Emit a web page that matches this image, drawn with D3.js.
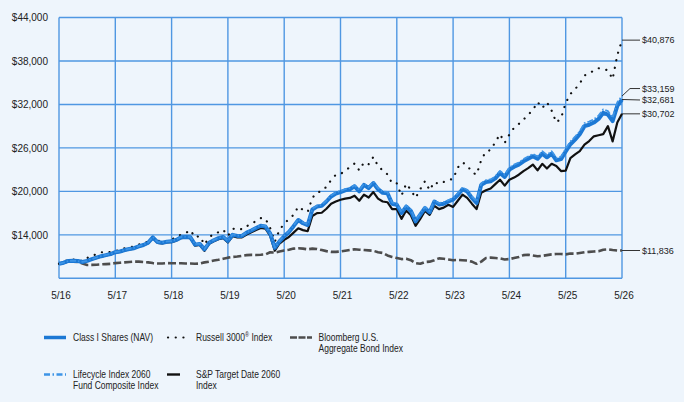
<!DOCTYPE html>
<html lang="en">
<head>
<meta charset="utf-8">
<title>Growth of $10,000</title>
<script src="https://cdn.jsdelivr.net/npm/d3@7"></script>
<style>
  body { margin: 0; background: #eef5fc; }
  svg { display: block; }
  text { font-family: "Liberation Sans", Arial, sans-serif; fill: #222; }
</style>
</head>
<body>
<script>
// month index 0 = 5/16 ... 120 = 5/26
var xTickLabels = ["5/16","5/17","5/18","5/19","5/20","5/21","5/22","5/23","5/24","5/25","5/26"];
var yTicks = [14000, 20000, 26000, 32000, 38000, 44000];

var classI = [10000,10150,10400,10420,10380,10250,10400,10650,10850,11050,11200,11350,
  11600,11700,11900,12050,12150,12400,12600,12900,13650,13000,12900,13050,
  13100,13300,13650,13700,13650,12650,12750,12000,12900,13250,13550,13700,
  13150,14000,13850,13850,14300,14600,14950,15250,15150,14200,12200,13100,
  13800,14400,15200,16050,15600,15350,17500,17900,18000,18600,19300,19700,
  19900,20150,20300,20700,20000,20900,20450,21150,20300,19800,19750,18300,
  18150,17000,17900,17300,15850,16800,17700,17100,18600,18200,18300,18600,
  18850,19500,20300,20000,19100,18400,20900,21300,21400,21800,22550,22000,
  23000,23400,23700,24150,24500,24850,24500,25200,24700,25200,24300,24450,
  25500,26500,27150,27900,29000,29200,29500,30000,30850,30600,29700,31800,
  32681];

var lifecycle = [10000,10160,10410,10430,10390,10260,10420,10670,10870,11070,11230,11380,
  11630,11730,11930,12080,12190,12430,12640,12940,13690,13040,12940,13090,
  13140,13350,13700,13750,13700,12700,12800,12050,12950,13300,13600,13760,
  13200,14060,13910,13910,14370,14670,15020,15330,15230,14270,12260,13170,
  13880,14490,15300,16150,15700,15450,17620,18020,18120,18730,19430,19840,
  20040,20300,20450,20860,20150,21060,20610,21320,20470,19970,19920,18460,
  18310,17160,18070,17470,16000,16960,17870,17270,18780,18380,18490,18790,
  19050,19710,20520,20220,19310,18600,21130,21540,21650,22060,22820,22270,
  23280,23690,23990,24450,24810,25170,24820,25530,25030,25540,24640,24790,
  25860,26880,27540,28300,29420,29630,29940,30450,31320,31080,30170,32300,
  33159];

var russell = [10000,10300,10550,10600,10550,10350,10800,11150,11300,11600,11550,11650,
  11800,11900,12150,12250,12400,12650,12900,13050,13700,13250,12950,13150,
  13400,13600,14050,14250,14650,13650,13850,12650,13650,14150,14350,14700,
  13850,14800,14950,14750,15200,15450,15950,16300,16250,14950,13050,14700,
  15500,16200,16750,17900,17450,17150,19100,19850,20000,20650,21550,22300,
  22400,22850,23350,23850,22900,24000,23750,24750,23500,22900,22350,21100,
  21100,19400,21050,20200,19100,20300,21400,20150,21300,21000,21300,21600,
  21700,23300,24000,23600,22650,22300,24350,25500,25700,26800,27900,26700,
  27850,28800,29300,29900,30600,31200,32350,31500,32300,31150,29500,30100,
  32200,33450,34100,34900,36000,36250,36700,37000,36900,36700,35500,38800,
  40876];

var bloomberg = [10000,10150,10300,10280,10250,10050,9840,9850,9880,9920,9960,10000,
  10100,10150,10200,10250,10300,10300,10250,10200,10100,10050,10050,10100,
  10080,10080,10080,10050,10050,10000,10050,10200,10300,10450,10550,10700,
  10850,10950,11000,11100,11200,11230,11220,11250,11300,11600,11550,11700,
  11850,11950,12100,12150,12100,12000,12100,12050,11900,11750,11650,11650,
  11700,11800,11900,12000,11950,11900,11850,11800,11600,11500,11150,10950,
  10800,10650,10700,10500,10100,10000,10250,10300,10500,10750,10700,10600,
  10500,10550,10500,10450,10300,10000,10300,10800,10850,10800,10750,10600,
  10650,10800,10950,11200,11250,11150,11050,11100,11200,11300,11350,11350,
  11300,11420,11400,11500,11600,11650,11700,11750,11950,12000,11900,11830,
  11836];

var spTarget = [10000,10150,10380,10400,10350,10200,10380,10620,10800,11000,11150,11300,
  11550,11650,11850,12000,12100,12350,12550,12850,13550,12900,12800,12950,
  13000,13200,13550,13600,13550,12500,12600,11800,12750,13100,13400,13550,
  12950,13800,13650,13650,14050,14350,14650,14950,14850,13900,11800,12800,
  13300,13700,14300,14900,14650,14500,16600,17000,17050,17600,18300,18600,
  18850,19000,19100,19400,18700,19550,19150,19900,19000,18600,18500,17550,
  17550,16200,17350,16700,15250,16200,17300,16750,18000,17550,17750,18150,
  17850,18700,19550,19100,18300,17550,19800,20150,20400,21000,21600,20800,
  21600,21900,22300,22800,23200,23700,22900,23800,23150,23800,23500,22800,
  22850,24600,25100,25550,26450,26950,27600,27750,27900,29000,26900,29500,
  30702];

var w = 684, h = 402;
var plotLeft = 59, plotRight = 622, plotTop = 17.5, plotBottom = 278.3;
var gridColor = "#4f97e2";

var svg = d3.select("body").append("svg")
  .attr("width", w)
  .attr("height", h);

svg.append("rect").attr("width", w).attr("height", h).attr("fill", "#eef5fc");

var xScale = d3.scaleLinear().domain([0, 120]).range([plotLeft, plotRight]);
var yScale = d3.scaleLinear().domain([8000, 44000]).range([plotBottom, plotTop]);

// grid
var grid = svg.append("g");
grid.selectAll("line.v")
  .data(xTickLabels)
  .enter().append("line")
  .attr("x1", function(d, i) { return xScale(i * 12); })
  .attr("x2", function(d, i) { return xScale(i * 12); })
  .attr("y1", plotTop).attr("y2", plotBottom)
  .attr("stroke", gridColor).attr("stroke-width", 1.4);
grid.selectAll("line.h")
  .data(yTicks)
  .enter().append("line")
  .attr("x1", plotLeft).attr("x2", plotRight)
  .attr("y1", function(d) { return yScale(d); })
  .attr("y2", function(d) { return yScale(d); })
  .attr("stroke", gridColor).attr("stroke-width", 1.4);
grid.append("line")
  .attr("x1", plotLeft).attr("x2", plotRight)
  .attr("y1", plotBottom).attr("y2", plotBottom)
  .attr("stroke", gridColor).attr("stroke-width", 1.4);

// y axis labels
var yAxis = d3.axisLeft(yScale).tickValues(yTicks).tickSize(0).tickPadding(11)
  .tickFormat(function(d) { return "$" + d3.format(",")(d); });
svg.append("g").attr("transform", "translate(" + plotLeft + ",0)").call(yAxis)
  .call(function(g) { g.select(".domain").remove(); })
  .selectAll("text").attr("font-size", "10px").attr("fill", "#222")
  .style("font-family", "Liberation Sans, Arial, sans-serif");

// x axis labels
svg.append("g").selectAll("text")
  .data(xTickLabels)
  .enter().append("text")
  .attr("x", function(d, i) { return xScale(i * 12) + 2; })
  .attr("y", 299)
  .attr("text-anchor", "middle")
  .attr("font-size", "10px")
  .text(function(d) { return d; });

var line = d3.line()
  .x(function(d, i) { return xScale(i); })
  .y(function(d) { return yScale(d); });

var series = [
  { values: bloomberg, color: "#4d4d4d", width: 2.6, dash: "8,3" },
  { values: russell, color: "#111", width: 2.2, dash: "0.1,7.6", cap: "round" },
  { values: spTarget, color: "#111", width: 2.2, dash: null },
  { values: classI, color: "#1c78d4", width: 4, dash: null },
  { values: lifecycle, color: "#3d94e6", width: 1.8, dash: "6,2,1.5,2" }
];

svg.selectAll("path.series")
  .data(series)
  .enter().append("path")
  .attr("class", "series")
  .attr("d", function(d) { return line(d.values); })
  .attr("fill", "none")
  .attr("stroke", function(d) { return d.color; })
  .attr("stroke-width", function(d) { return d.width; })
  .attr("stroke-dasharray", function(d) { return d.dash; })
  .attr("stroke-linecap", function(d) { return d.cap || "butt"; })
  .attr("stroke-linejoin", "round");

// end labels
var endLabels = [
  { v: russell[120], ly: yScale(russell[120]) },
  { v: lifecycle[120], ly: yScale(lifecycle[120]) - 7.5 },
  { v: classI[120], ly: yScale(classI[120]) + 0.5 },
  { v: spTarget[120], ly: yScale(spTarget[120]) },
  { v: bloomberg[120], ly: yScale(bloomberg[120]) }
];
var ends = svg.append("g");
ends.selectAll("path")
  .data(endLabels)
  .enter().append("path")
  .attr("d", function(d) {
    var y0 = yScale(d.v);
    if (Math.abs(d.ly - y0) > 1) {
      return "M" + plotRight + "," + y0 + "L" + (plotRight + 8) + "," + d.ly + "L" + (plotRight + 18) + "," + d.ly;
    }
    return "M" + plotRight + "," + y0 + "L" + (plotRight + 18) + "," + d.ly;
  })
  .attr("fill", "none").attr("stroke", "#333").attr("stroke-width", 1);
ends.selectAll("text")
  .data(endLabels)
  .enter().append("text")
  .attr("x", plotRight + 20)
  .attr("y", function(d) { return d.ly; })
  .attr("dy", "0.35em")
  .attr("font-size", "9px")
  .text(function(d) { return "$" + d3.format(",")(d.v); });

// legend
var legendItems = [
  { col: 0, row: 0, lines: ["Class I Shares (NAV)"], color: "#1c78d4", width: 3.5, dash: null, len: 22 },
  { col: 1, row: 0, lines: ["Russell 3000"], sup: true, color: "#111", width: 2.2, dash: "0.1,7.6", cap: "round", len: 18 },
  { col: 2, row: 0, lines: ["Bloomberg U.S.", "Aggregate Bond Index"], color: "#4d4d4d", width: 2.6, dash: "7,1.5", len: 22 },
  { col: 0, row: 1, lines: ["Lifecycle Index 2060", "Fund Composite Index"], color: "#3d94e6", width: 2.5, dash: "6,2.5,1.5,2.5", len: 22 },
  { col: 1, row: 1, lines: ["S&P Target Date 2060", "Index"], color: "#111", width: 2.4, dash: null, len: 13 }
];
var colX = [44, 167, 290];
var rowY = [337.5, 374.5];

var legend = svg.selectAll("g.legend")
  .data(legendItems)
  .enter().append("g")
  .attr("class", "legend")
  .attr("transform", function(d) { return "translate(" + colX[d.col] + "," + rowY[d.row] + ")"; });

legend.append("line")
  .attr("x1", function(d) { return d.cap ? 1 : 0; })
  .attr("x2", function(d) { return d.len; })
  .attr("y1", 0).attr("y2", 0)
  .attr("stroke", function(d) { return d.color; })
  .attr("stroke-width", function(d) { return d.width; })
  .attr("stroke-dasharray", function(d) { return d.dash; })
  .attr("stroke-linecap", function(d) { return d.cap || "butt"; });

// legend text is a condensed face in the original: squeeze it horizontally
legend.each(function(d) {
  var t = d3.select(this).append("text")
    .attr("transform", "translate(" + (d.col === 2 ? 28.5 : 29) + ",0) scale(0.85,1)")
    .attr("font-size", "10px");
  d.lines.forEach(function(s, i) {
    t.append("tspan").attr("x", 0).attr("dy", i === 0 ? 3.5 : 11.5).text(s);
  });
  if (d.sup) {
    t.append("tspan").attr("dy", -4).attr("font-size", "6.5px").text("®");
    t.append("tspan").attr("dy", 4).text(" Index");
  }
});
</script>
</body>
</html>
